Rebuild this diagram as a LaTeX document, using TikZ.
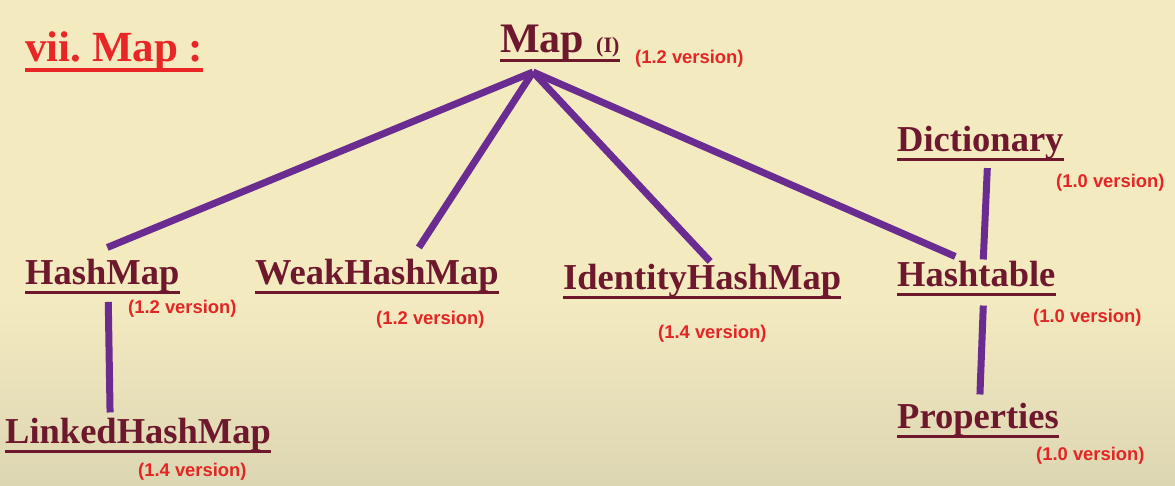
\documentclass[tikz,border=0pt]{standalone}
\usepackage{fontspec}
\usepackage{xcolor}
\usepackage{tikz}
\usetikzlibrary{calc}
\newfontfamily\timesrm{Liberation Serif}
\newfontfamily\arialsf{Liberation Sans}
\definecolor{bgtop}{RGB}{244,234,192}
\definecolor{bgbot}{RGB}{220,214,178}
\definecolor{maroon}{RGB}{110,24,45}
\definecolor{titlered}{RGB}{232,38,38}
\definecolor{vred}{RGB}{226,37,37}
\definecolor{lpurple}{RGB}{107,44,145}
\newcommand\clsfont{\timesrm\bfseries\fontsize{36.5}{40}\selectfont}
\newcommand\verfont{\arialsf\bfseries\fontsize{18.4}{20}\selectfont}
\tikzstyle{cls}=[inner sep=0pt,anchor=base west,text=maroon,font=\clsfont]
\tikzstyle{ver}=[inner sep=0pt,anchor=base west,text=vred,font=\verfont]
\tikzstyle{link}=[line width=7pt,draw=lpurple]
\tikzstyle{ul}=[line width=3pt,draw=maroon]
\frenchspacing

\begin{document}
\begin{tikzpicture}[x=1pt,y=-1pt]
	\useasboundingbox (0,0) rectangle (1175,486);
	\fill[bgtop] (0,0) rectangle (1175,300);
	\shade[top color=bgtop,bottom color=bgbot] (0,300) rectangle (1175,486);
	\node[inner sep=0pt,anchor=base west,text=titlered,font=\timesrm\bfseries\fontsize{43}{46}\selectfont] (title) at (25,62) {vii. Map :};
	\draw[line width=3.5pt,draw=titlered] ([yshift=-8pt]title.base west) -- ([yshift=-8pt]title.base east);
	\node[cls,font=\timesrm\bfseries\fontsize{42}{46}\selectfont] (map) at (500,53) {Map\hspace{12pt}{\fontsize{22}{24}\selectfont(I)}};
	\node[cls] (hm)   at (25,285)  {HashMap};
	\node[cls] (whm)  at (255,285) {WeakHashMap};
	\node[cls] (ihm)  at (563,290) {IdentityHashMap};
	\node[cls] (ht)   at (897,287) {Hashtable};
	\node[cls] (dict) at (897,152) {Dictionary};
	\node[cls] (lhm)  at (5,443)   {LinkedHashMap};
	\node[cls] (prop) at (897,428) {Properties};
	\node[ver] (map-v)  at (635,64)  {(1.2 version)};
	\node[ver] (hm-v)   at (128,313) {(1.2 version)};
	\node[ver] (whm-v)  at (376,324) {(1.2 version)};
	\node[ver] (ihm-v)  at (658,338) {(1.4 version)};
	\node[ver] (ht-v)   at (1033,322) {(1.0 version)};
	\node[ver] (dict-v) at (1056,188) {(1.0 version)};
	\node[ver] (lhm-v)  at (138,476) {(1.4 version)};
	\node[ver] (prop-v) at (1036,460) {(1.0 version)};
	\foreach \n in {map,hm,whm,ihm,ht,dict,lhm,prop}
		\draw[ul] ([yshift=-8pt]\n.base west) -- ([yshift=-8pt]\n.base east);
	\coordinate (apex) at ([shift={(33,19)}]map.base west);
	\draw[link] (apex) -- ([shift={(5,-12)}]hm.north);
	\draw[link] (apex) -- ([shift={(42,-12)}]whm.north);
	\draw[link] (apex) -- ([shift={(8,-3)}]ihm.north);
	\draw[link] (apex) -- ([shift={(-21,-5)}]ht.north);
	\draw[link] ([shift={(6,9)}]hm.south) -- ([shift={(-28,-5)}]lhm.north);
	\draw[link] ([shift={(7,8)}]dict.south) -- ([shift={(7,-2)}]ht.north);
	\draw[link] ([shift={(7,18)}]ht.south) -- ([shift={(2,-8)}]prop.north);
\end{tikzpicture}
\end{document}
